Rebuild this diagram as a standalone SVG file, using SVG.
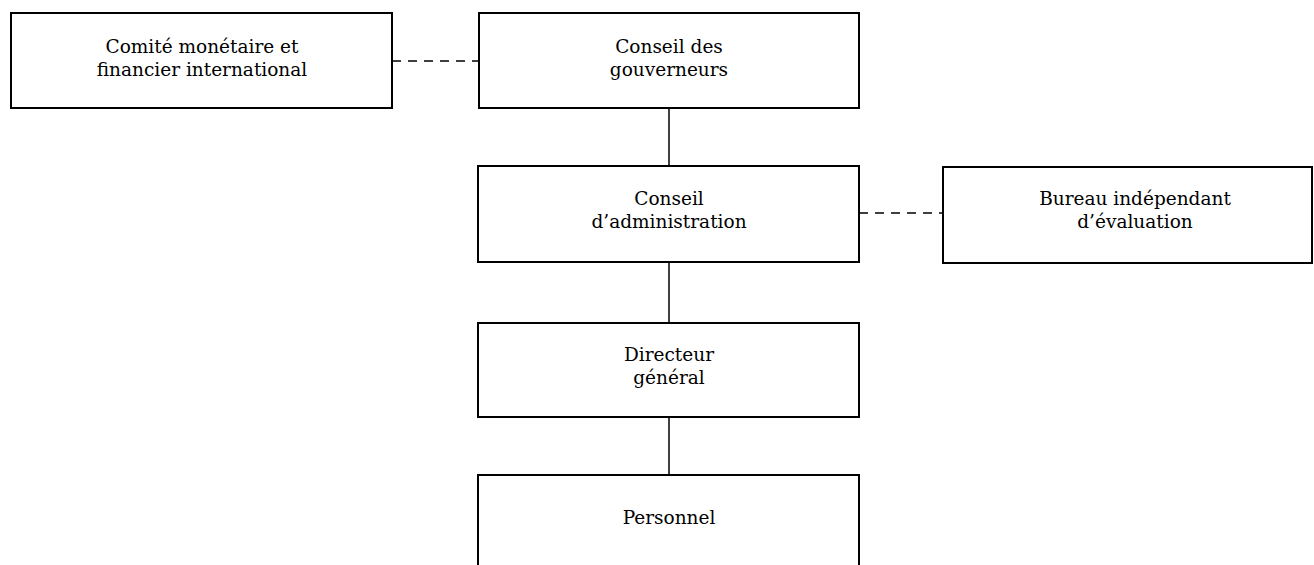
<svg xmlns="http://www.w3.org/2000/svg" width="1314" height="565" viewBox="0 0 1314 565">
<style>
.box{fill:#fff;stroke:#000;stroke-width:2}
.t{font-family:"DejaVu Serif","Liberation Serif",serif;font-size:18.5px;fill:#000;text-anchor:middle}
.c{stroke:#000;stroke-width:1.5;fill:none}
.d{stroke-dasharray:9,7}
</style>
<rect width="1314" height="565" fill="#fff"/>
<g id="connectors">
<line class="c d" x1="392" y1="61" x2="479" y2="61"/>
<line class="c d" x1="859" y1="213" x2="943" y2="213"/>
<line class="c" x1="669" y1="108" x2="669" y2="166"/>
<line class="c" x1="669" y1="262" x2="669" y2="323"/>
<line class="c" x1="669" y1="417" x2="669" y2="475"/>
</g>
<g id="cmfi">
<rect class="box" x="11" y="13" width="381" height="95"/>
<text class="t" x="202" y="53">Comité monétaire et</text>
<text class="t" x="202" y="76">financier international</text>
</g>
<g id="gouverneurs">
<rect class="box" x="479" y="13" width="380" height="95"/>
<text class="t" x="669" y="53">Conseil des</text>
<text class="t" x="669" y="76">gouverneurs</text>
</g>
<g id="administration">
<rect class="box" x="478" y="166" width="381" height="96"/>
<text class="t" x="669" y="205">Conseil</text>
<text class="t" x="669" y="228">d’administration</text>
</g>
<g id="bureau">
<rect class="box" x="943" y="167" width="369" height="96"/>
<text class="t" x="1135" y="205">Bureau indépendant</text>
<text class="t" x="1135" y="228">d’évaluation</text>
</g>
<g id="directeur">
<rect class="box" x="478" y="323" width="381" height="94"/>
<text class="t" x="669" y="361">Directeur</text>
<text class="t" x="669" y="384">général</text>
</g>
<g id="personnel">
<rect class="box" x="478" y="475" width="381" height="100"/>
<text class="t" x="669" y="524">Personnel</text>
</g>
</svg>
